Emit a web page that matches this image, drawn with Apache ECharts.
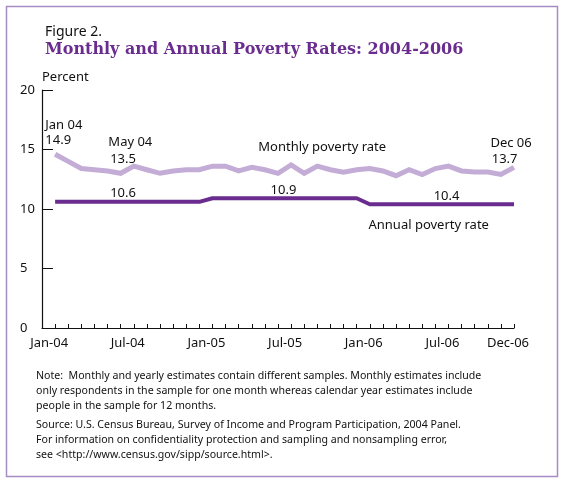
<!DOCTYPE html>
<html>
<head>
<meta charset="utf-8">
<script src="https://cdn.jsdelivr.net/npm/echarts@6/dist/echarts.min.js"></script>
<style>
  html, body { margin: 0; padding: 0; background: #fff; }
  #chart { width: 564px; height: 487px; }
</style>
</head>
<body>
<div id="chart"></div>
<script>
// 月度贫困率 Jan 2004 - Dec 2006
var monthly = [14.6, 14.0, 13.4, 13.3, 13.2, 13.0, 13.6, 13.3, 13.0, 13.2, 13.3, 13.3,
               13.6, 13.6, 13.2, 13.5, 13.3, 13.0, 13.7, 13.0, 13.6, 13.3, 13.1, 13.3,
               13.4, 13.2, 12.8, 13.3, 12.9, 13.4, 13.6, 13.2, 13.1, 13.1, 12.9, 13.5];
// 年度贫困率
var annualRates = [10.6, 10.9, 10.4];
// x轴标签
var tickLabels = ['Jan-04', 'Jul-04', 'Jan-05', 'Jul-05', 'Jan-06', 'Jul-06', 'Dec-06'];
var tickMonths = [0, 6, 12, 18, 24, 30, 35];
var yTicks = [0, 5, 10, 15, 20];

var FONT = "'Noto Sans', sans-serif";

// 年度数据按月展开
var annual = [];
annualRates.forEach(function (r) {
  for (var k = 0; k < 12; k++) annual.push(r);
});

// 图上的注释文字 (位置用数据坐标)
var notes = [
  { text: 'Jan 04', at: [-0.75, 17.05] },
  { text: '14.9', at: [-0.75, 15.8] },
  { text: 'May 04', at: [4.06, 15.6] },
  { text: '13.5', at: [4.2, 14.2] },
  { text: 'Dec 06', at: [33.2, 15.55] },
  { text: '13.7', at: [33.3, 14.2] },
  { text: 'Monthly poverty rate', at: [15.5, 15.2] },
  { text: '10.6', at: [4.2, 11.35] },
  { text: '10.9', at: [16.43, 11.55] },
  { text: '10.4', at: [28.87, 11.1] },
  { text: 'Annual poverty rate', at: [23.9, 8.6] }
];

var noteText = 'Note:  Monthly and yearly estimates contain different samples. Monthly estimates include\n' +
  'only respondents in the sample for one month whereas calendar year estimates include\n' +
  'people in the sample for 12 months.';
var sourceText = 'Source: U.S. Census Bureau, Survey of Income and Program Participation, 2004 Panel.\n' +
  'For information on confidentiality protection and sampling and nonsampling error,\n' +
  'see <http://www.census.gov/sipp/source.html>.';

var chart = echarts.init(document.getElementById('chart'));

var option = {
  backgroundColor: '#fff',
  animation: false,
  title: [
    {
      text: 'Figure 2.', left: 40, top: 20,
      textStyle: { fontFamily: FONT, fontWeight: 'normal', fontSize: 14, color: '#111' }
    },
    {
      text: 'Monthly and Annual Poverty Rates: 2004-2006', left: 40, top: 37,
      textStyle: { fontFamily: "'DejaVu Serif', serif", fontWeight: 'bold', fontSize: 16, color: '#6a2d8f' }
    }
  ],
  grid: { left: 42, right: 50, top: 90, bottom: 159 },
  xAxis: {
    type: 'value',
    min: -1,
    max: 35,
    interval: 1,
    splitLine: { show: false },
    axisLine: { lineStyle: { color: '#111', width: 1.2 } },
    axisTick: { inside: true, length: 4, lineStyle: { color: '#111', width: 1 } },
    axisLabel: {
      customValues: tickMonths,
      formatter: function (v) { return tickLabels[tickMonths.indexOf(v)] || ''; },
      fontFamily: FONT, fontSize: 13, color: '#111', margin: 9,
      padding: [0, 12, 0, 0]
    }
  },
  yAxis: {
    type: 'value',
    min: 0,
    max: 20,
    interval: 5,
    name: 'Percent',
    nameLocation: 'end',
    nameGap: 6,
    nameTextStyle: { fontFamily: FONT, fontSize: 13, color: '#111', align: 'left' },
    splitLine: { show: false },
    axisLine: { show: true, onZero: false, lineStyle: { color: '#111', width: 1.2 } },
    axisTick: { show: true, inside: true, length: 11, lineStyle: { color: '#111', width: 1 } },
    axisLabel: {
      customValues: yTicks,
      fontFamily: FONT, fontSize: 13, color: '#111', align: 'left', margin: 22
    }
  },
  series: [
    {
      name: 'Monthly poverty rate',
      type: 'line',
      data: monthly.map(function (v, i) { return [i, v]; }),
      symbol: 'none',
      lineStyle: { color: '#c3acd6', width: 5, join: 'miter' },
      silent: true
    },
    {
      name: 'Annual poverty rate',
      type: 'line',
      data: annual.map(function (v, i) { return [i, v]; }),
      symbol: 'none',
      lineStyle: { color: '#6a2d8f', width: 4 },
      silent: true,
      markPoint: {
        silent: true,
        symbol: 'circle',
        symbolSize: 0,
        label: {
          show: true, position: 'inside', align: 'left', verticalAlign: 'middle',
          formatter: '{b}', fontFamily: FONT, fontSize: 13, color: '#111'
        },
        data: notes.map(function (n) { return { name: n.text, coord: n.at, value: 0 }; })
      }
    }
  ],
  graphic: [
    {
      type: 'rect', silent: true,
      shape: { x: 6.5, y: 6.5, width: 551, height: 470 },
      style: { fill: 'none', stroke: '#a68bc5', lineWidth: 1.5 }
    },
    {
      type: 'text', left: 36, top: 368, silent: true,
      style: { text: noteText, fontFamily: FONT, fontSize: 10.6, lineHeight: 15, fill: '#111' }
    },
    {
      type: 'text', left: 36, top: 417, silent: true,
      style: { text: sourceText, fontFamily: FONT, fontSize: 10.6, lineHeight: 15, fill: '#111' }
    }
  ]
};

chart.setOption(option);
</script>
</body>
</html>
